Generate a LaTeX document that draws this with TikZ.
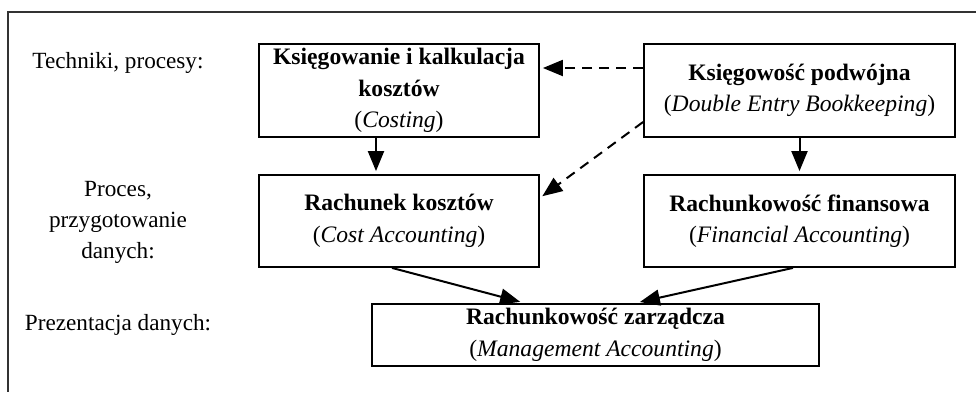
\documentclass[tikz,border=0pt]{standalone}
\usepackage{fontspec}
\setmainfont{Liberation Serif}
\usepackage{tikz}
\usetikzlibrary{arrows.meta}
\tikzset{
box/.style = { rectangle, draw = black, line width = 0.9pt, fill = white, align = center, inner sep = 0pt, font = \fontsize{11.8}{15.8}\selectfont },
level label/.style = { align = center, inner sep = 0pt, font = \fontsize{11.6}{15.5}\selectfont },
flow/.style = { -{Triangle[length = 10pt, width = 8pt]}, line width = 1pt, shorten > = 1.5pt },
link/.style = { flow, dash pattern = on 5pt off 3.5pt },
}

\begin{document}
\begin{tikzpicture}[x = 0.5pt, y = -0.5pt]
      \useasboundingbox (0, 0) rectangle (976, 392);
      \draw[line width = 1pt, black!80] (976, 12) -- (8, 12) -- (8, 392);
      % levels
      \node[level label, anchor = base] (techniki) at (118, 68) {Techniki, procesy:};
      \node[level label] (proces) at (118, 222) {Proces,\\ przygotowanie\\ danych:};
      \node[level label, anchor = base] (prezentacja) at (118, 330) {Prezentacja danych:};
      % boxes
      \node[box, minimum width = 140pt, minimum height = 46.5pt] (kalk) at (399, 90.5)
            {\textbf{Księgowanie i kalkulacja}\\ \textbf{kosztów}\\ (\textit{Costing})};
      \node[box, minimum width = 155.5pt, minimum height = 46.5pt] (podw) at (799.5, 90.5)
            {\textbf{Księgowość podwójna}\\ (\textit{Double Entry Bookkeeping})};
      \node[box, minimum width = 140pt, minimum height = 46pt] (rkosz) at (399, 221)
            {\textbf{Rachunek kosztów}\\ (\textit{Cost Accounting})};
      \node[box, minimum width = 155.5pt, minimum height = 46pt] (rfin) at (799.5, 221)
            {\textbf{Rachunkowość finansowa}\\ (\textit{Financial Accounting})};
      \node[box, minimum width = 223.5pt, minimum height = 31pt] (rzarz) at (595.5, 335)
            {\textbf{Rachunkowość zarządcza}\\ (\textit{Management Accounting})};
      % arrows
      \draw[flow] ([xshift = -11.5pt]kalk.south) -- ([xshift = -11.5pt]rkosz.north);
      \draw[flow] (podw.south) -- (rfin.north);
      \draw[link] ([yshift = 11.25pt]podw.west) -- ([yshift = 11.25pt]kalk.east);
      \draw[link] ([yshift = -15.75pt]podw.west) -- ([yshift = 11.5pt]rkosz.east);
      \draw[flow, shorten > = 2.5pt] ([xshift = -3.5pt]rkosz.south) -- ([xshift = -35.25pt]rzarz.north);
      \draw[flow, shorten > = 2.5pt] ([xshift = -3.25pt]rfin.south) -- ([xshift = 19.75pt]rzarz.north);
\end{tikzpicture}
\end{document}
